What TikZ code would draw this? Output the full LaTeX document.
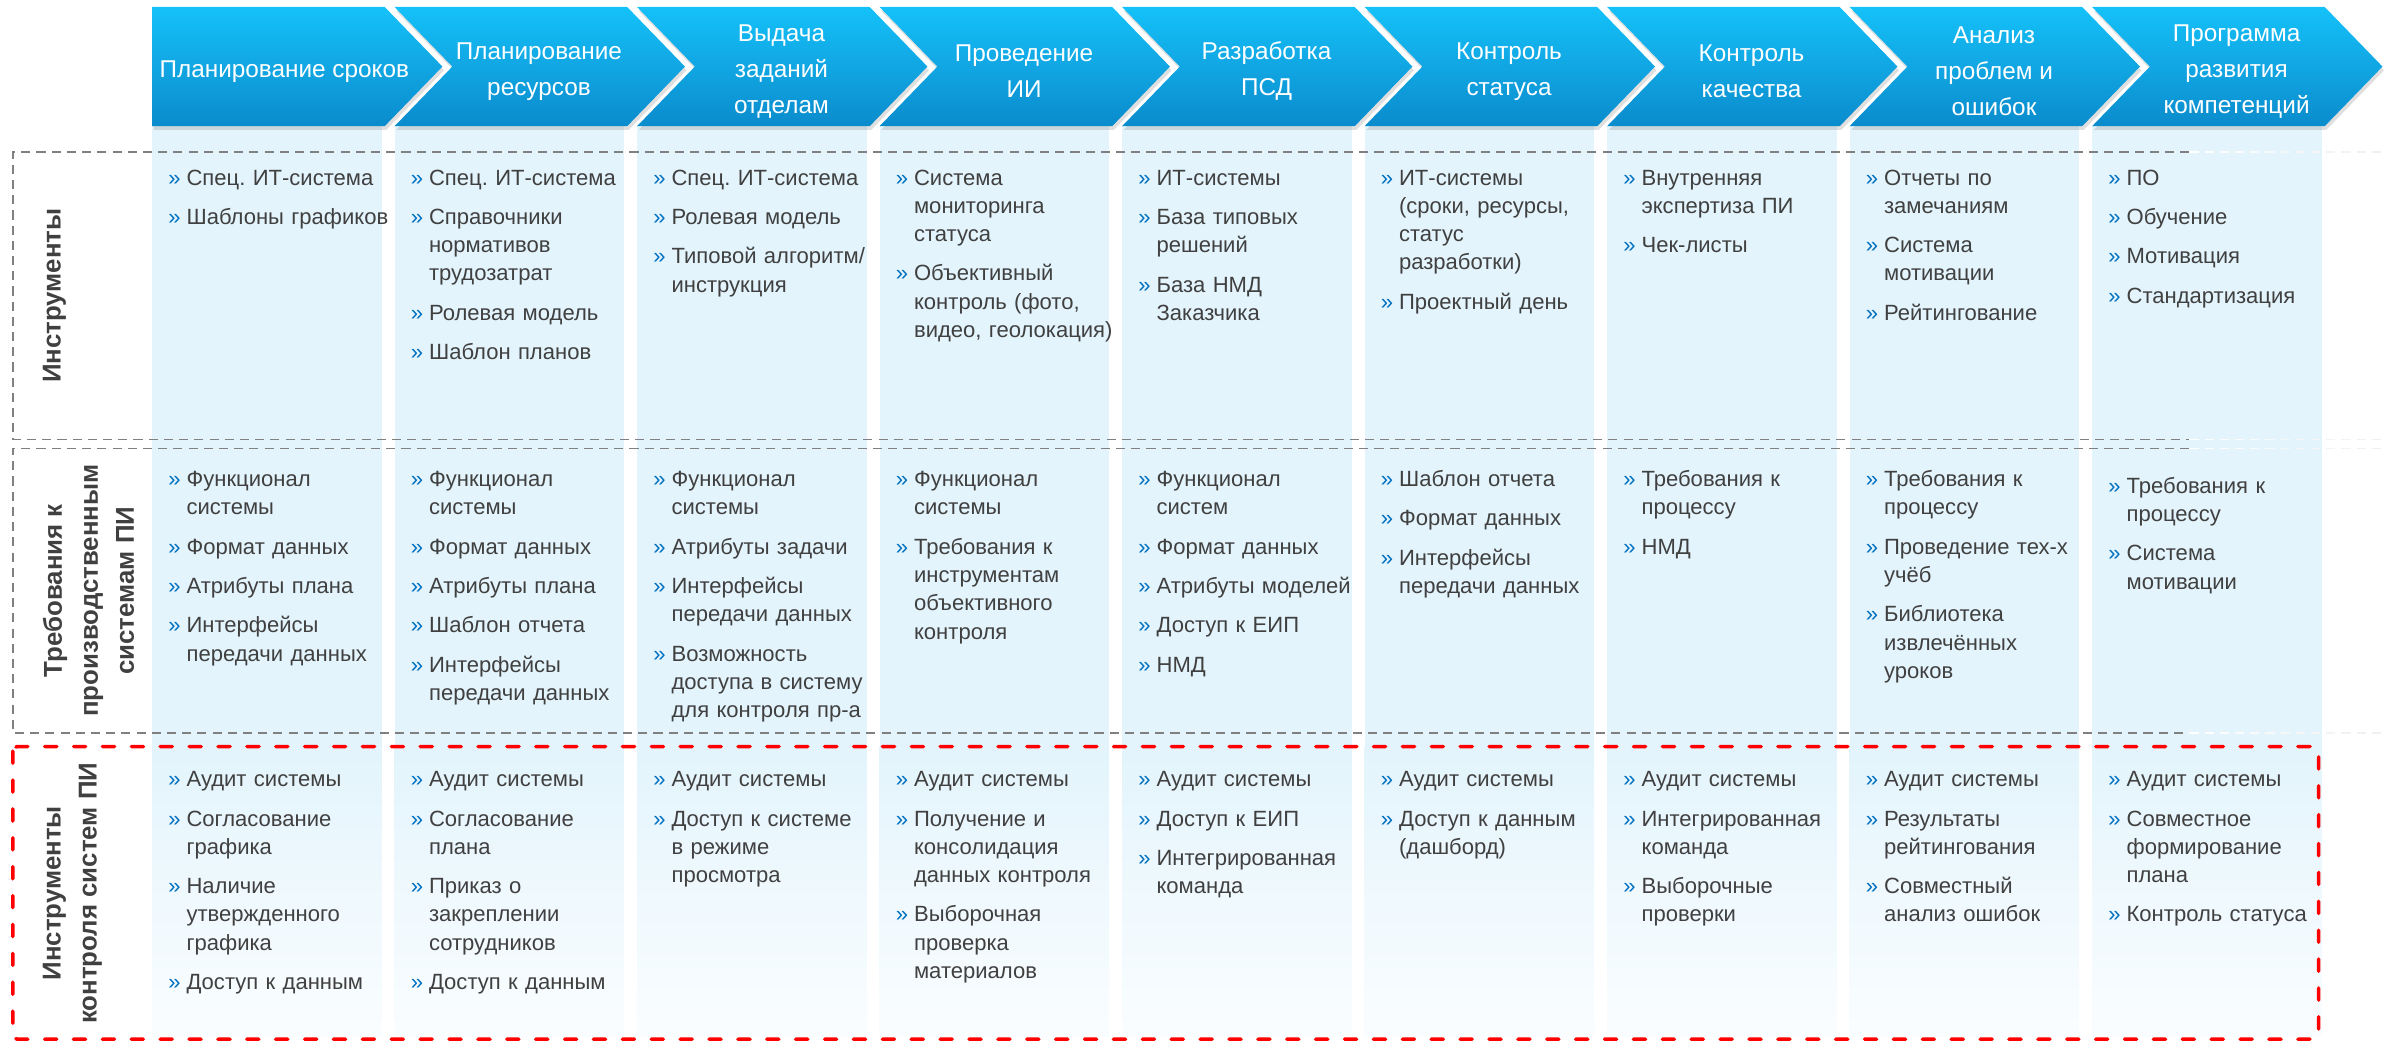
\documentclass[tikz,border=0pt]{standalone}
\usepackage{fontspec}
\setmainfont{Liberation Sans}
\usepackage{tikz}
\usetikzlibrary{shadows}
\frenchspacing
\definecolor{cyanTop}{RGB}{20,193,248}
\definecolor{cyanMid}{RGB}{17,166,227}
\definecolor{blueBottom}{RGB}{10,139,204}
\definecolor{paleBlue}{RGB}{227,244,252}
\definecolor{paleBlueLow}{RGB}{250,253,255}
\definecolor{darkText}{RGB}{64,64,64}
\definecolor{dashGray}{RGB}{128,128,128}
\definecolor{bulletBlue}{RGB}{0,112,192}
\definecolor{alertRed}{RGB}{255,0,0}
\tikzstyle{chevron}=[top color=cyanTop, bottom color=blueBottom,
                     middle color=cyanMid,
                     drop shadow={opacity=0.25, shadow xshift=1pt,
                     shadow yshift=-2.5pt}]
\tikzstyle{band}=[fill=paleBlue]
\tikzstyle{fadeband}=[top color=paleBlue, bottom color=paleBlueLow]
\tikzstyle{grayline}=[draw=dashGray, line width=1pt,
                      dash pattern=on 6pt off 4pt]
\tikzstyle{redline}=[draw=alertRed, line width=2.3pt,
                     dash pattern=on 8pt off 11pt, line cap=round]
\tikzstyle{head}=[text=white, align=center, inner sep=0pt,
                  font=\fontsize{16}{23.7}\selectfont]
\tikzstyle{cell}=[anchor=base west, text width=150pt, align=left,
                  inner sep=0pt, text=darkText,
                  font=\fontsize{14.5}{18.6}\selectfont]
\tikzstyle{rowlabel}=[rotate=90, anchor=north, align=center,
                      inner sep=0pt, text=darkText,
                      font=\bfseries\fontsize{17}{23.7}\selectfont]
\newcommand{\blt}{\noindent\makebox[12pt][l]{\textcolor{bulletBlue}{»}}}
\newcommand{\brk}{\\\hspace*{12pt}}
\newcommand{\nxt}{\\[7.3pt]\blt}

\begin{document}
\begin{tikzpicture}[x=1pt,y=-1pt]
    \useasboundingbox (0,0) rectangle (1568,685);

    % columns
    \foreach \i in {1,...,9}{
        \pgfmathsetmacro\x{100+159.5*(\i-1)}
        \fill[band] (\x,83) rectangle (\x+151,491);
        \shade[fadeband] (\x,491) rectangle (\x+151,682);
    }

    % frames
    \draw[grayline] (1440,100) -- (8.4,100) -- (8.4,289) -- (1440,289);
    \draw[grayline] (1440,295) -- (8.4,295) -- (8.4,482) -- (1440,482);
    \foreach \y in {100,289,295,482}
        \foreach \k [evaluate=\k as \op using int(95-7*\k)] in {0,...,12}
            \draw[grayline, draw=dashGray!\op] (1440+10*\k,\y) -- ++(10,0);
    \draw[redline, rounded corners=3pt] (8.4,491) rectangle (1525,683.5);

    % chevrons
    \foreach \i/\o/\t in {1/87/{Планирование сроков},
                          2/95/{Планирование\\ресурсов},
                          3/95/{Выдача\\заданий\\отделам},
                          4/95/{Проведение\\ИИ},
                          5/95/{Разработка\\ПСД},
                          6/95/{Контроль\\статуса},
                          7/95/{Контроль\\качества},
                          8/95/{Анализ\\проблем и\\ошибок},
                          9/95/{Программа\\развития\\компетенций}}{
        \pgfmathsetmacro\x{100+159.5*(\i-1)}
        \pgfmathsetmacro\n{\i>1 ? 38 : 0}
        \path[chevron] (\x,4.6) -- ++(153,0) -- ++(38,39.2) -- ++(-38,39.2)
            -- (\x,83) -- ++(\n,-39.2) -- cycle;
        \draw (\x+\o,47) node (h\i) [head] {\t};
    }

    % row labels
    \draw (28,194.5) node (l1) [rowlabel] {Инструменты};
    \draw (28,388.5) node (l2) [rowlabel] {Требования к\\производственным\\системам ПИ};
    \draw (28,587.5) node (l3) [rowlabel] {Инструменты\\контроля систем ПИ};

    % row 1
    \draw (110.5,121.7) node (a1) [cell] {\blt Спец. ИТ-система\nxt Шаблоны графиков};
    \draw (270,121.7) node (a2) [cell] {\blt Спец. ИТ-система\nxt Справочники\brk нормативов\brk трудозатрат\nxt Ролевая модель\nxt Шаблон планов};
    \draw (429.5,121.7) node (a3) [cell] {\blt Спец. ИТ-система\nxt Ролевая модель\nxt Типовой алгоритм/\brk инструкция};
    \draw (589,121.7) node (a4) [cell] {\blt Система\brk мониторинга\brk статуса\nxt Объективный\brk контроль (фото,\brk видео, геолокация)};
    \draw (748.5,121.7) node (a5) [cell] {\blt ИТ-системы\nxt База типовых\brk решений\nxt База НМД\brk Заказчика};
    \draw (908,121.7) node (a6) [cell] {\blt ИТ-системы\brk (сроки, ресурсы,\brk статус\brk разработки)\nxt Проектный день};
    \draw (1067.5,121.7) node (a7) [cell] {\blt Внутренняя\brk экспертиза ПИ\nxt Чек-листы};
    \draw (1227,121.7) node (a8) [cell] {\blt Отчеты по\brk замечаниям\nxt Система\brk мотивации\nxt Рейтингование};
    \draw (1386.5,121.7) node (a9) [cell] {\blt ПО\nxt Обучение\nxt Мотивация\nxt Стандартизация};

    % row 2
    \draw (110.5,320) node (b1) [cell] {\blt Функционал\brk системы\nxt Формат данных\nxt Атрибуты плана\nxt Интерфейсы\brk передачи данных};
    \draw (270,320) node (b2) [cell] {\blt Функционал\brk системы\nxt Формат данных\nxt Атрибуты плана\nxt Шаблон отчета\nxt Интерфейсы\brk передачи данных};
    \draw (429.5,320) node (b3) [cell] {\blt Функционал\brk системы\nxt Атрибуты задачи\nxt Интерфейсы\brk передачи данных\nxt Возможность\brk доступа в систему\brk для контроля пр-а};
    \draw (589,320) node (b4) [cell] {\blt Функционал\brk системы\nxt Требования к\brk инструментам\brk объективного\brk контроля};
    \draw (748.5,320) node (b5) [cell] {\blt Функционал\brk систем\nxt Формат данных\nxt Атрибуты моделей\nxt Доступ к ЕИП\nxt НМД};
    \draw (908,320) node (b6) [cell] {\blt Шаблон отчета\nxt Формат данных\nxt Интерфейсы\brk передачи данных};
    \draw (1067.5,320) node (b7) [cell] {\blt Требования к\brk процессу\nxt НМД};
    \draw (1227,320) node (b8) [cell] {\blt Требования к\brk процессу\nxt Проведение тех-х\brk учёб\nxt Библиотека\brk извлечённых\brk уроков};
    \draw (1386.5,324.4) node (b9) [cell] {\blt Требования к\brk процессу\nxt Система\brk мотивации};

    % row 3
    \draw (110.5,517.4) node (c1) [cell] {\blt Аудит системы\nxt Согласование\brk графика\nxt Наличие\brk утвержденного\brk графика\nxt Доступ к данным};
    \draw (270,517.4) node (c2) [cell] {\blt Аудит системы\nxt Согласование\brk плана\nxt Приказ о\brk закреплении\brk сотрудников\nxt Доступ к данным};
    \draw (429.5,517.4) node (c3) [cell] {\blt Аудит системы\nxt Доступ к системе\brk в режиме\brk просмотра};
    \draw (589,517.4) node (c4) [cell] {\blt Аудит системы\nxt Получение и\brk консолидация\brk данных контроля\nxt Выборочная\brk проверка\brk материалов};
    \draw (748.5,517.4) node (c5) [cell] {\blt Аудит системы\nxt Доступ к ЕИП\nxt Интегрированная\brk команда};
    \draw (908,517.4) node (c6) [cell] {\blt Аудит системы\nxt Доступ к данным\brk (дашборд)};
    \draw (1067.5,517.4) node (c7) [cell] {\blt Аудит системы\nxt Интегрированная\brk команда\nxt Выборочные\brk проверки};
    \draw (1227,517.4) node (c8) [cell] {\blt Аудит системы\nxt Результаты\brk рейтингования\nxt Совместный\brk анализ ошибок};
    \draw (1386.5,517.4) node (c9) [cell] {\blt Аудит системы\nxt Совместное\brk формирование\brk плана\nxt Контроль статуса};

\end{tikzpicture}
\end{document}
